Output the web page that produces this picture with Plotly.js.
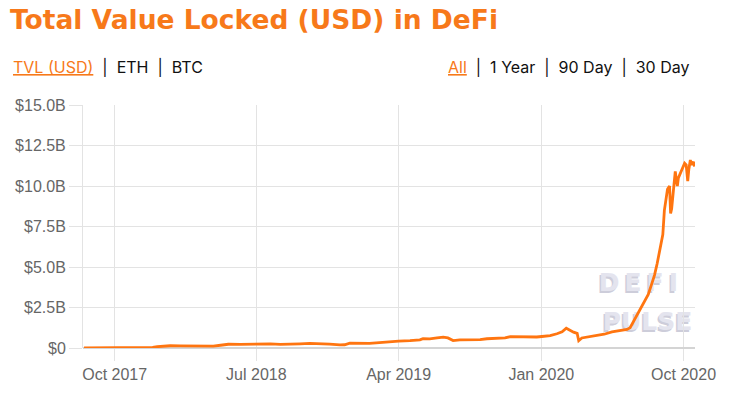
<!DOCTYPE html>
<html>
<head>
<meta charset="utf-8">
<script src="https://cdn.plot.ly/plotly-3.0.1.min.js"></script>
<style>
html,body{margin:0;padding:0;background:#fff;}
#chart{width:733px;height:396px;}
</style>
</head>
<body>
<div id="chart"></div>
<script>
// TVL in billions USD
var dates = [
  "2017-08-03","2017-09-03","2017-10-01","2017-10-31","2017-11-29","2017-12-13","2017-12-22",
  "2018-01-03","2018-01-16","2018-02-04","2018-02-23","2018-03-15","2018-04-09","2018-04-23",
  "2018-05-08","2018-05-31","2018-06-19","2018-07-03","2018-07-28","2018-08-16","2018-09-04",
  "2018-09-23","2018-10-12","2018-10-31","2018-11-19","2018-12-09","2018-12-18","2018-12-28",
  "2019-01-16","2019-02-04","2019-02-23","2019-03-05","2019-03-15","2019-04-01","2019-04-23",
  "2019-05-12","2019-05-18","2019-05-31","2019-06-14","2019-06-26","2019-07-05","2019-07-15",
  "2019-07-28","2019-08-17","2019-09-05","2019-09-18","2019-10-04","2019-10-23","2019-11-02",
  "2019-11-21","2019-12-10","2019-12-23","2020-01-02","2020-01-18","2020-01-31","2020-02-10",
  "2020-02-18","2020-02-24","2020-03-03","2020-03-10","2020-03-13","2020-03-19","2020-04-02",
  "2020-04-16","2020-05-01","2020-05-16","2020-05-30","2020-06-14","2020-06-20","2020-06-26",
  "2020-07-04","2020-07-13","2020-07-19","2020-07-25","2020-07-31","2020-08-06","2020-08-11",
  "2020-08-15","2020-08-19","2020-08-22","2020-08-25","2020-08-28","2020-08-31","2020-09-04",
  "2020-09-06","2020-09-08","2020-09-10","2020-09-13","2020-09-15","2020-09-17","2020-09-19",
  "2020-09-21","2020-09-25","2020-09-29","2020-10-03","2020-10-06","2020-10-09","2020-10-11",
  "2020-10-14","2020-10-17","2020-10-20","2020-10-22"
];
var tvl = [
  0.005,0.01,0.01,0.015,0.02,0.04,0.08,
  0.12,0.14,0.13,0.12,0.13,0.12,0.17,
  0.23,0.22,0.24,0.26,0.25,0.22,0.22,
  0.26,0.28,0.27,0.24,0.19,0.20,0.30,
  0.28,0.29,0.33,0.36,0.36,0.42,0.45,
  0.50,0.58,0.56,0.62,0.67,0.62,0.46,
  0.50,0.50,0.52,0.57,0.58,0.62,0.70,
  0.68,0.66,0.68,0.71,0.76,0.88,1.00,
  1.22,1.10,0.98,0.90,0.45,0.62,0.68,
  0.77,0.85,1.00,1.05,1.15,1.25,1.60,
  2.00,2.60,2.90,3.30,3.90,4.50,5.20,
  5.80,6.50,7.00,8.50,9.30,9.80,10.00,
  8.30,8.60,9.40,10.20,10.90,10.40,10.00,
  10.50,10.80,11.20,11.40,11.30,10.30,11.00,
  11.60,11.30,11.50,11.20
];
var xTickVals = ["2017-10-01","2018-07-01","2019-04-01","2020-01-01","2020-10-01"];
var xTickText = ["Oct 2017","Jul 2018","Apr 2019","Jan 2020","Oct 2020"];
var yTickVals = [0,2.5,5,7.5,10,12.5,15];
var yTickText = ["$0","$2.5B","$5.0B","$7.5B","$10.0B","$12.5B","$15.0B"];

var orange = "#f7791a";
var tickFont = {family:"'Liberation Sans', Arial, sans-serif", size:16, color:"#666"};
var linkFont = {family:"Inter, 'Open Sans', sans-serif", size:16, color:"#111"};

var trace = {
  x: dates, y: tvl, type:"scatter", mode:"lines",
  line:{color:"#ff7510", width:2.8},
  hoverinfo:"skip"
};

var wmFont1 = {family:"'DejaVu Sans', sans-serif", size:25, color:"#cdcdda", weight:700};
var wmFont2 = {family:"'DejaVu Sans', sans-serif", size:25, color:"#e4e4ee", weight:700};
var ts = "\u2009";

var layout = {
  width:733, height:396,
  margin:{l:83, r:38, t:105, b:48},
  paper_bgcolor:"#fff", plot_bgcolor:"#fff",
  showlegend:false,
  title:{
    text:"Total Value Locked (USD) in DeFi",
    font:{family:"'DejaVu Sans', sans-serif", size:26.5, color:orange, weight:700},
    xref:"container", x:10/733, xanchor:"left",
    yref:"container", y:1-20/396, yanchor:"middle"
  },
  xaxis:{
    type:"date",
    range:["2017-08-01","2020-10-23"],
    tickvals:xTickVals, ticktext:xTickText,
    tickfont:tickFont,
    ticks:"outside", ticklen:12, tickcolor:"#e3e3e3", tickwidth:1,
    showgrid:true, gridcolor:"#e3e3e3", gridwidth:1,
    showline:false, zeroline:false, fixedrange:true
  },
  yaxis:{
    range:[0,15],
    tickvals:yTickVals, ticktext:yTickText,
    tickfont:tickFont,
    ticks:"outside", ticklen:13, tickcolor:"#e3e3e3", tickwidth:1,
    showgrid:true, gridcolor:"#e3e3e3", gridwidth:1,
    zeroline:true, zerolinecolor:"#d4d4d4", zerolinewidth:2,
    showline:true, linecolor:"#e3e3e3", linewidth:1,
    fixedrange:true
  },
  shapes:[
    {type:"rect", xref:"paper", yref:"paper", x0:0.83, x1:0.98, y0:0.21, y1:0.33,
     line:{width:0}, fillcolor:"rgba(0,0,0,0)", layer:"between",
     label:{text:"D"+ts+"E"+ts+"F"+ts+"I", textposition:"middle center", font:wmFont1}},
    {type:"rect", xref:"paper", yref:"paper", x0:0.8325, x1:0.9825, y0:0.216, y1:0.336,
     line:{width:0}, fillcolor:"rgba(0,0,0,0)", layer:"between",
     label:{text:"D"+ts+"E"+ts+"F"+ts+"I", textposition:"middle center", font:wmFont2}},
    {type:"rect", xref:"paper", yref:"paper", x0:0.84, x1:1.0, y0:0.05, y1:0.17,
     line:{width:0}, fillcolor:"rgba(0,0,0,0)", layer:"between",
     label:{text:"PULSE", textposition:"middle center", font:wmFont1}},
    {type:"rect", xref:"paper", yref:"paper", x0:0.8425, x1:1.0025, y0:0.056, y1:0.176,
     line:{width:0}, fillcolor:"rgba(0,0,0,0)", layer:"between",
     label:{text:"PULSE", textposition:"middle center", font:wmFont2}}
  ],
  annotations:[
    {xref:"paper", yref:"paper", x:-72/612, xanchor:"left", y:1+(105-67)/242.5, yanchor:"middle",
     showarrow:false, font:linkFont,
     text:'<span style="color:'+orange+';text-decoration:underline">TVL (USD)</span>  |  ETH  |  BTC'},
    {xref:"paper", yref:"paper", x:(691-83)/612, xanchor:"right", y:1+(105-67)/242.5, yanchor:"middle",
     showarrow:false, font:linkFont,
     text:'<span style="color:'+orange+';text-decoration:underline">All</span>  |  1 Year  |  90 Day  |  30 Day'}
  ]
};

Plotly.newPlot("chart", [trace], layout, {staticPlot:true, displayModeBar:false});
</script>
</body>
</html>
